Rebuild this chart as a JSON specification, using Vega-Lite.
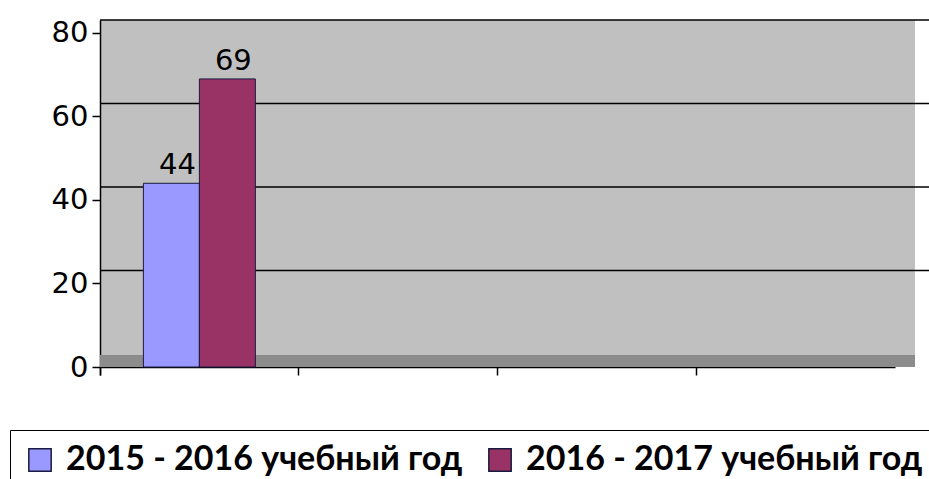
{
  "$schema": "https://vega.github.io/schema/vega-lite/v6.json",
  "autosize": "none",
  "padding": {"left": 100, "top": 20, "right": 14, "bottom": 112},
  "width": 815,
  "height": 347,
  "background": "white",
  "config": {
    "view": {"fill": "#c0c0c0", "stroke": null},
    "font": "DejaVu Sans"
  },
  "datasets": {
    "bars": [
      {"cat": "1", "series": "2015 - 2016 учебный год", "value": 44},
      {"cat": "1", "series": "2016 - 2017 учебный год", "value": 69}
    ],
    "grid": [{"v": 20}, {"v": 40}, {"v": 60}, {"v": 80}],
    "floor": [{"v": 0}]
  },
  "layer": [
    {
      "data": {"name": "floor"},
      "mark": {"type": "rule", "color": "#8c8c8c", "strokeWidth": 12, "yOffset": -6},
      "encoding": {
        "y": {"field": "v", "type": "quantitative", "scale": {"domain": [0, 83.11], "nice": false, "zero": true}}
      }
    },
    {
      "data": {"name": "grid"},
      "mark": {"type": "rule", "color": "black", "strokeWidth": 1.5, "yOffset": -13, "xOffset": 20},
      "encoding": {
        "y": {"field": "v", "type": "quantitative"}
      }
    },
    {
      "data": {"name": "bars"},
      "mark": {"type": "bar", "stroke": "#1a1a40", "strokeWidth": 1},
      "encoding": {
        "x": {
          "field": "cat", "type": "nominal",
          "scale": {"domain": ["1", "2", "3", "4"], "range": [0, 795], "paddingInner": 0, "paddingOuter": 0},
          "axis": {"title": null, "labels": false, "bandPosition": 0, "tickExtra": true, "tickColor": "black", "tickSize": 8, "domainColor": "black", "domainWidth": 1.5, "tickWidth": 1.5, "grid": false}
        },
        "xOffset": {
          "field": "series", "type": "nominal",
          "scale": {"paddingInner": 0, "paddingOuter": 0.775}
        },
        "y": {
          "field": "value", "type": "quantitative",
          "axis": {"title": null, "values": [0, 20, 40, 60, 80], "grid": false, "tickColor": "black", "tickSize": 8, "tickWidth": 1.5, "domainColor": "black", "domainWidth": 1.5, "labelFontSize": 29, "labelColor": "black", "labelPadding": 4, "labelFont": "DejaVu Sans"}
        },
        "color": {
          "field": "series", "type": "nominal",
          "scale": {"range": ["#9999ff", "#993366"]},
          "legend": {
            "title": null,
            "orient": "none",
            "legendX": -90,
            "legendY": 410,
            "direction": "horizontal",
            "symbolType": "square",
            "symbolSize": 500,
            "symbolStrokeColor": "#1a1a40",
            "symbolStrokeWidth": 1.5,
            "symbolOpacity": 1,
            "labelFont": "Lato",
            "labelFontWeight": "bold",
            "labelFontSize": 34,
            "labelColor": "black",
            "labelLimit": 700,
            "labelOffset": 9,
            "columnPadding": 20,
            "strokeColor": "black",
            "padding": 13
          }
        }
      }
    },
    {
      "data": {"name": "bars"},
      "mark": {"type": "text", "baseline": "bottom", "dy": -3, "dx": 6, "fontSize": 29, "color": "black", "font": "DejaVu Sans"},
      "encoding": {
        "x": {"field": "cat", "type": "nominal"},
        "xOffset": {"field": "series", "type": "nominal"},
        "y": {"field": "value", "type": "quantitative"},
        "text": {"field": "value", "type": "quantitative"}
      }
    }
  ]
}
